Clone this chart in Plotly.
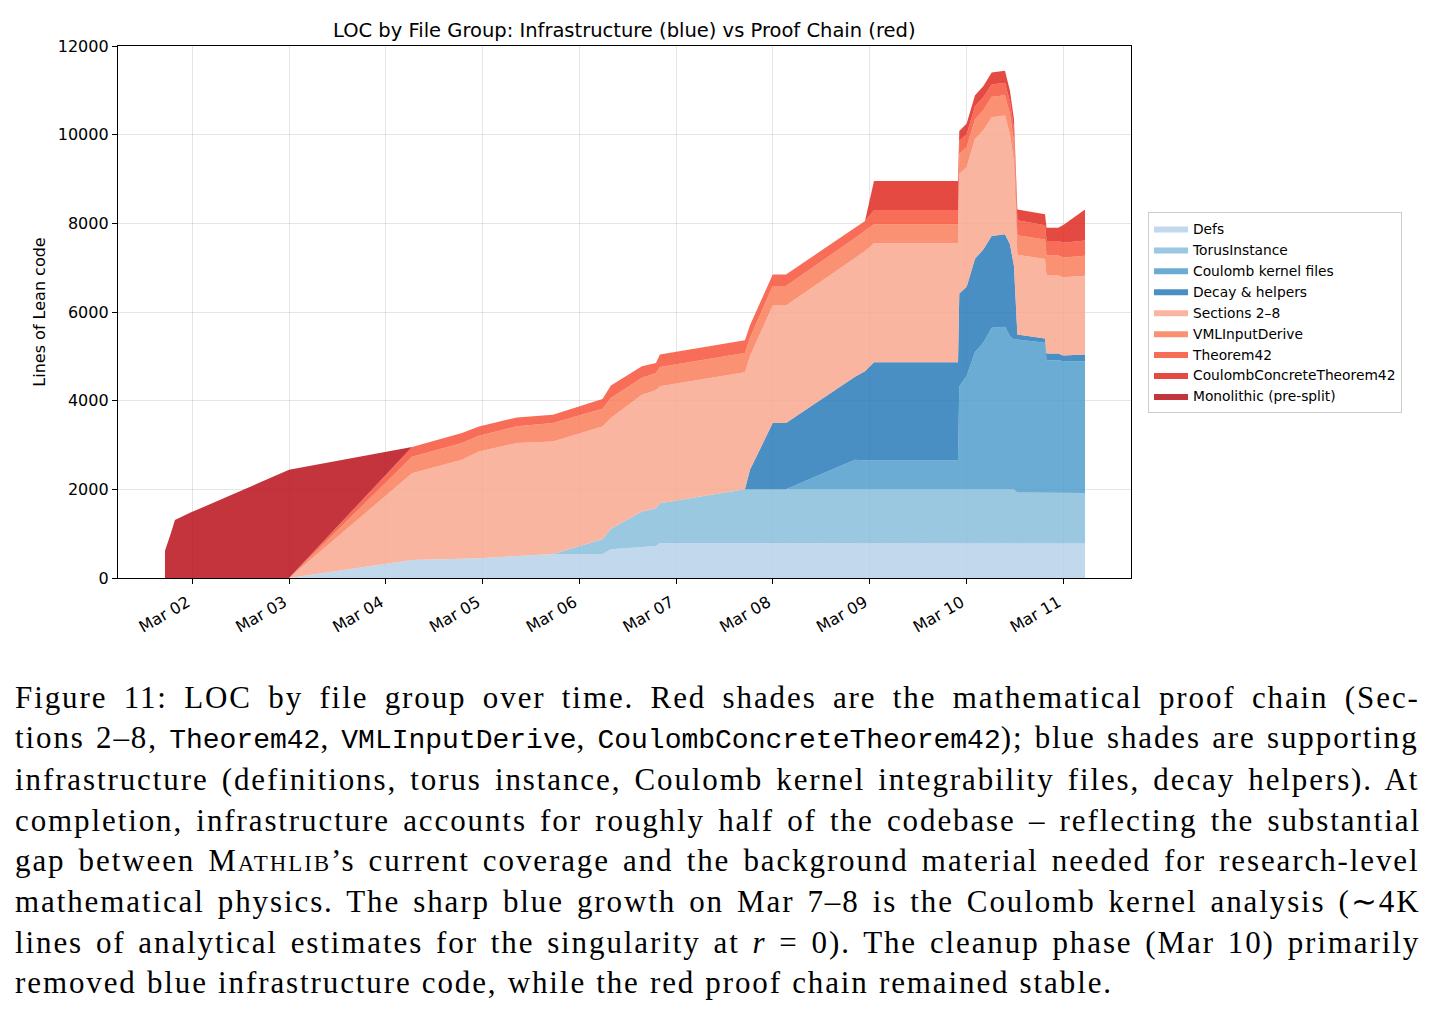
import plotly.graph_objects as go

# ---------------- data ----------------
times = [
    "2025-03-01 17:14", "2025-03-01 17:59", "2025-03-01 18:43", "2025-03-01 19:42",
    "2025-03-01 23:26", "2025-03-03 00:00",
    "2025-03-04 06:29", "2025-03-04 18:53", "2025-03-04 23:05", "2025-03-05 08:31",
    "2025-03-05 17:27",
    "2025-03-06 05:43", "2025-03-06 07:49", "2025-03-06 15:30", "2025-03-06 18:59",
    "2025-03-06 19:58",
    "2025-03-07 17:03", "2025-03-07 18:18", "2025-03-07 23:56", "2025-03-08 03:14",
    "2025-03-08 20:21", "2025-03-08 22:49", "2025-03-09 01:03", "2025-03-09 21:53",
    "2025-03-09 22:12", "2025-03-10 00:02", "2025-03-10 02:06", "2025-03-10 04:09",
    "2025-03-10 06:14", "2025-03-10 09:32", "2025-03-10 10:46", "2025-03-10 11:46",
    "2025-03-10 12:36", "2025-03-10 19:28", "2025-03-10 19:50", "2025-03-10 22:45",
    "2025-03-11 00:00", "2025-03-11 05:23",
]

defs = [0, 0, 0, 0, 0, 0,
        407, 429, 444, 497, 542,
        542, 649, 700, 723, 784,
        784, 784, 784, 784, 784, 784, 784, 784,
        784, 784, 784, 784, 784, 784, 784, 784,
        770, 770, 770, 770, 770, 780]
torus = [0, 0, 0, 0, 0, 0,
         0, 0, 0, 0, 0,
         333, 461, 798, 852, 904,
         1220, 1216, 1216, 1216, 1216, 1216, 1216, 1216,
         1216, 1216, 1216, 1216, 1216, 1216, 1216, 1216,
         1160, 1160, 1160, 1160, 1150, 1140]
coulomb = [0, 0, 0, 0, 0, 0,
           0, 0, 0, 0, 0,
           0, 0, 0, 0, 0,
           0, 0, 0, 0, 670, 650, 650, 650,
           2320, 2560, 3100, 3304, 3643, 3665, 3454, 3380,
           3450, 3374, 2982, 2982, 2969, 2969]
decay = [0, 0, 0, 0, 0, 0,
         0, 0, 0, 0, 0,
         0, 0, 0, 0, 0,
         0, 441, 1496, 1496, 1867, 2014, 2216, 2216,
         2100, 2010, 2100, 2108, 2071, 2086, 2076, 1655,
         110, 100, 150, 150, 128, 151]
sections = [0, 0, 0, 0, 0, 0,
            1953, 2238, 2410, 2547, 2538,
            2545, 2500, 2638, 2659, 2636,
            2637, 2559, 2651, 2651, 2682, 2710, 2682, 2682,
            2700, 2700, 2700, 2690, 2680, 2680, 2480, 2345,
            1800, 1790, 1760, 1760, 1765, 1780]
vml = [0, 0, 0, 0, 0, 0,
       375, 377, 355, 380, 416,
       395, 450, 380, 392, 438,
       437, 420, 437, 437, 452, 452, 429, 429,
       450, 450, 450, 450, 460, 460, 460, 450,
       440, 440, 450, 450, 450, 450]
theorem42 = [0, 0, 0, 0, 0, 0,
             220, 226, 211, 199, 188,
             223, 280, 260, 225, 278,
             285, 280, 263, 263, 229, 226, 324, 324,
             290, 290, 290, 290, 280, 280, 280, 290,
             340, 320, 330, 330, 330, 340]
cct42 = [0, 0, 0, 0, 0, 0,
         0, 0, 0, 0, 0,
         0, 0, 0, 0, 0,
         0, 0, 0, 0, 0, 0, 655, 655,
         220, 240, 250, 250, 270, 270, 240, 230,
         240, 250, 300, 300, 400, 700]
monolithic = [617, 800, 1017, 1311, 1469, 2440,
              0, 0, 0, 0, 0,
              0, 0, 0, 0, 0,
              0, 0, 0, 0, 0, 0, 0, 0,
              0, 0, 0, 0, 0, 0, 0, 0,
              0, 0, 0, 0, 0, 0]

series_names = ["Defs", "TorusInstance", "Coulomb kernel files", "Decay & helpers",
                "Sections 2–8", "VMLInputDerive", "Theorem42",
                "CoulombConcreteTheorem42", "Monolithic (pre-split)"]
series_values = [defs, torus, coulomb, decay, sections, vml, theorem42, cct42, monolithic]
series_colors = ["#b7d2ea", "#88bedb", "#519dcc", "#2a7bba",
                 "#f8a88f", "#f97e5a", "#f6543b", "#df2a21", "#ba101a"]
fill_alpha = 0.85

title_text = "LOC by File Group: Infrastructure (blue) vs Proof Chain (red)"
ylabel_text = "Lines of Lean code"

caption_lines = [
    "Figure 11: LOC by file group over time. Red shades are the mathematical proof chain (Sec-",
    "tions 2–8, <TT>Theorem42</TT>, <TT>VMLInputDerive</TT>, <TT>CoulombConcreteTheorem42</TT>); blue shades are supporting",
    "infrastructure (definitions, torus instance, Coulomb kernel integrability files, decay helpers). At",
    "completion, infrastructure accounts for roughly half of the codebase – reflecting the substantial",
    "gap between M<SC>ATHLIB</SC>’s current coverage and the background material needed for research-level",
    "mathematical physics. The sharp blue growth on Mar 7–8 is the Coulomb kernel analysis (∼4K",
    "lines of analytical estimates for the singularity at <i>r</i> = 0). The cleanup phase (Mar 10) primarily",
    "removed blue infrastructure code, while the red proof chain remained stable.",
]
# per-line word spacing (px) used to imitate the justified paragraph
caption_wordspace = [6.7, 1.6, 3.5, 3.6, 3.5, 3.4, 3.2, 0.5]


def hex_rgba(h, a):
    h = h.lstrip("#")
    return "rgba(%d,%d,%d,%.2f)" % (int(h[0:2], 16), int(h[2:4], 16), int(h[4:6], 16), a)


fig = go.Figure()
for name, vals, col in zip(series_names, series_values, series_colors):
    fig.add_trace(go.Scatter(
        x=times, y=vals, name=name, mode="lines", stackgroup="one",
        line=dict(width=0, color=col), fillcolor=hex_rgba(col, fill_alpha),
        hoverinfo="skip",
    ))

W, H = 1435, 1015
L, R, T, B = 118, 1131, 46, 578
pw, ph = R - L, B - T


def px_x(x):
    return (x - L) / pw


def px_y(y):
    return (B - y) / ph


fig.update_layout(
    width=W, height=H,
    margin=dict(l=L, r=W - R, t=T, b=H - B, pad=0),
    paper_bgcolor="white", plot_bgcolor="white",
    font=dict(family="DejaVu Sans", size=16, color="black"),
    showlegend=True,
    legend=dict(
        x=px_x(1148), y=px_y(212), xanchor="left", yanchor="top",
        traceorder="normal", bordercolor="#cccccc", borderwidth=1,
        bgcolor="rgba(255,255,255,0.8)", font=dict(size=13.8, family="DejaVu Sans"),
        itemwidth=34, tracegroupgap=0,
    ),
)

grid_col = "rgba(170,170,170,0.3)"
fig.update_xaxes(
    type="date",
    range=["2025-03-01 05:35", "2025-03-11 16:47"],
    tick0="2025-03-02", dtick=86400000, tickformat="%b %d",
    tickangle=-30, ticks="outside", ticklen=5, tickwidth=1.2, tickcolor="black",
    ticklabelstandoff=3, ticklabelshift=-5,
    showline=True, linecolor="black", linewidth=1.3, mirror=True,
    showgrid=True, gridcolor=grid_col, gridwidth=1,
    tickfont=dict(size=16), zeroline=False,
)
fig.update_yaxes(
    range=[0, 12000], dtick=2000, tick0=0, tickformat="d",
    ticks="outside", ticklen=5, tickwidth=1.2, tickcolor="black",
    showline=True, linecolor="black", linewidth=1.3, mirror=True,
    showgrid=True, gridcolor=grid_col, gridwidth=1,
    tickfont=dict(size=16), zeroline=False,
    title=dict(text=ylabel_text, font=dict(size=16), standoff=8),
)

annotations = [
    dict(text=title_text, xref="paper", yref="paper", x=0.5, y=1, yanchor="bottom",
         xanchor="center", yshift=2, showarrow=False,
         font=dict(size=19.5, family="DejaVu Sans", color="black")),
]

mono = "font-family:'Liberation Mono',monospace;font-size:28px;letter-spacing:0px"
cap_y = [698, 738, 779, 820, 860, 901, 942, 982]
for line, yy, ws in zip(caption_lines, cap_y, caption_wordspace):
    txt = (line.replace("<TT>", "<span style=\"%s\">" % mono).replace("</TT>", "</span>")
           .replace("<SC>", "<span style=\"font-size:23px\">").replace("</SC>", "</span>"))
    txt = "<span style=\"letter-spacing:1.9px;word-spacing:%.1fpx\">%s</span>" % (ws, txt)
    annotations.append(dict(
        text=txt, xref="paper", yref="paper", x=px_x(13), y=px_y(yy),
        xanchor="left", yanchor="middle", showarrow=False, align="left",
        font=dict(size=31, family="Liberation Serif", color="black"),
    ))
fig.update_layout(annotations=annotations)

fig.write_html("out.html")
